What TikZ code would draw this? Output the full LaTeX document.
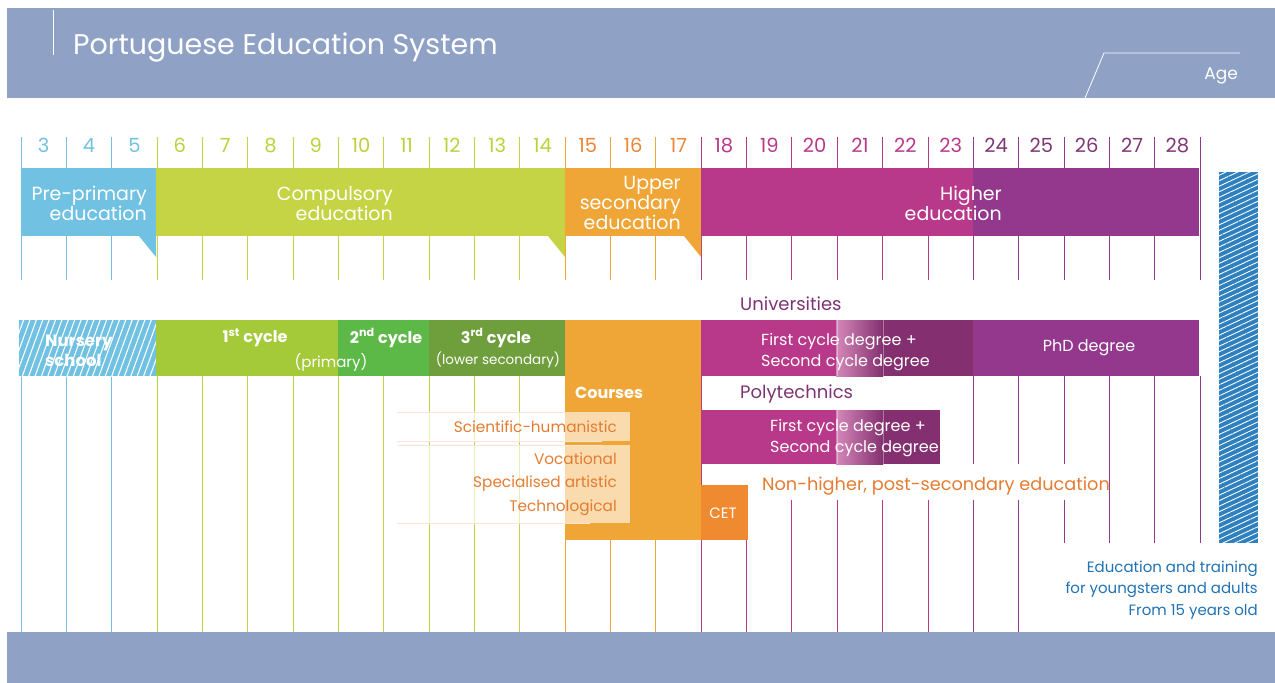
\documentclass[tikz,border=0pt]{standalone}
\usepackage{fontspec}
\setmainfont{Poppins}
\usetikzlibrary{patterns.meta}

\definecolor{hdr}{HTML}{8FA2C6}
\definecolor{cpre}{HTML}{71C1E2}
\definecolor{ccomp}{HTML}{C5D444}
\definecolor{cupper}{HTML}{F0A636}
\definecolor{chigh}{HTML}{B8388A}
\definecolor{cphd}{HTML}{93388C}
\definecolor{cfirst}{HTML}{A4CA3A}
\definecolor{csecond}{HTML}{5DB947}
\definecolor{cthird}{HTML}{6F9E3C}
\definecolor{cdeep}{HTML}{843070}
\definecolor{cuni}{HTML}{7E3474}
\definecolor{ccet}{HTML}{EF8A30}
\definecolor{ctxtor}{HTML}{E47C32}
\definecolor{cbar}{HTML}{2E80BE}
\definecolor{ctxtbl}{HTML}{1F72B5}
\definecolor{ncomp}{HTML}{BDD03C}
\definecolor{nupper}{HTML}{EF8435}
\definecolor{nphd}{HTML}{7F3576}

\tikzset{
  band/.style={font=\fontsize{19}{20}\selectfont, text=white, inner sep=0, align=right, anchor=east},
  cyc/.style={font=\bfseries\fontsize{16}{17}\selectfont, text=white, inner sep=0},
  small/.style={font=\fontsize{15}{16}\selectfont, text=white, inner sep=0},
  deg/.style={font=\fontsize{16}{21}\selectfont, text=white, inner sep=0, align=left, anchor=west},
  track/.style={font=\fontsize{15.3}{23.5}\selectfont, text=ctxtor, inner sep=0, align=right, anchor=east},
  num/.style={font=\fontsize{19.5}{19.5}\selectfont, inner sep=0},
  grid/.style={line width=1}
}

\begin{document}
\begin{tikzpicture}[x=1pt,y=-1pt]
    \useasboundingbox (0,0) rectangle (1275,683);
    % Header
    \fill[hdr] (7,8) rectangle (1275,98);
    \draw[white, line width=1] (53,10) -- (53,55);
    \node[font=\fontsize{28.5}{28.5}\selectfont, text=white, anchor=west, inner sep=0] (title) at (73,48) {Portuguese Education System};
    \draw[white, line width=0.8] (1085,98) -- (1104,53) -- (1240,53);
    \node[font=\fontsize{17}{17}\selectfont, text=white, anchor=east, inner sep=0] (age) at (1238,76) {Age};
    % Grid lines
    \foreach \k/\c in {0/cpre,1/cpre,2/cpre,3/ccomp,4/ccomp,5/ccomp,6/ccomp,7/ccomp,8/ccomp,9/ccomp,10/ccomp,11/ccomp,12/cupper,13/cupper,14/cupper,15/chigh,16/chigh,17/chigh,18/chigh,19/chigh,20/chigh,21/cphd,22/cphd,23/cphd,24/cphd,25/cphd,26/cphd}
      \draw[grid, \c] ({21+45.35*\k},137) -- ({21+45.35*\k},280);
    \foreach \k/\c in {0/cpre,1/cpre,2/cpre,3/ccomp,4/ccomp,5/ccomp,6/ccomp,7/ccomp,8/ccomp,9/ccomp,10/ccomp,11/ccomp,12/cupper,13/cupper,14/cupper,15/chigh,16/chigh,17/chigh,18/chigh,19/chigh,20/chigh,21/cphd,22/cphd}
      \draw[grid, \c] ({21+45.35*\k},376) -- ({21+45.35*\k},632);
    \foreach \k in {23,...,26}
      \draw[grid, cphd] ({21+45.35*\k},376) -- ({21+45.35*\k},543);
    % Ages
    \foreach \a in {3,4,5}
      \node[num, text=cpre] (n\a) at ({43.7+45.35*(\a-3)},145.5) {\a};
    \foreach \a in {6,...,14}
      \node[num, text=ncomp] (n\a) at ({43.7+45.35*(\a-3)},145.5) {\a};
    \foreach \a in {15,16,17}
      \node[num, text=nupper] (n\a) at ({43.7+45.35*(\a-3)},145.5) {\a};
    \foreach \a in {18,...,23}
      \node[num, text=chigh] (n\a) at ({43.7+45.35*(\a-3)},145.5) {\a};
    \foreach \a in {24,...,28}
      \node[num, text=nphd] (n\a) at ({43.7+45.35*(\a-3)},145.5) {\a};
    % Levels
    \fill[cpre] (21,168) rectangle (156,236);
    \fill[cpre] (139,236) -- (156,236) -- (156,257) -- cycle;
    \fill[ccomp] (156,168) rectangle (565,236);
    \fill[ccomp] (548,236) -- (565,236) -- (565,257) -- cycle;
    \fill[cupper] (565,168) rectangle (701,236);
    \fill[cupper] (684,236) -- (701,236) -- (701,257) -- cycle;
    \fill[chigh] (701,168) rectangle (973,236);
    \fill[cphd] (973,168) rectangle (1199,236);
    \node[band] (preprim) at (147,203) {Pre-primary\\education};
    \node[band] (compuls) at (393,204) {Compulsory\\education};
    \node[band] (upper) at (681,203) {Upper\\secondary\\education};
    \node[band] (higher) at (1002,203) {Higher\\education};
    % Right bar
    \fill[cbar] (1219,172) rectangle (1258,543);
    \fill[pattern={Lines[angle=25, distance=5pt, line width=0.9pt]}, pattern color=white] (1219,172) rectangle (1258,543);
    % Basic education
    \fill[cpre] (19,320) rectangle (156,376);
    \fill[pattern={Lines[angle=70, distance=6pt, line width=1.1pt]}, pattern color=white] (19,320) rectangle (156,376);
    \fill[cfirst] (156,320) rectangle (338,376);
    \fill[csecond] (338,320) rectangle (429,376);
    \fill[cthird] (429,320) rectangle (565,376);
    \node[cyc, align=left, anchor=west, font=\bfseries\fontsize{16.5}{20}\selectfont] (nursery) at (45,351) {Nursery\\school};
    \node[cyc] (first) at (255,338) {1\textsuperscript{st} cycle};
    \node[small] (primary) at (331,362) {(primary)};
    \node[cyc] (second) at (386,338) {2\textsuperscript{nd} cycle};
    \node[cyc] (third) at (496,338) {3\textsuperscript{rd} cycle};
    \node[small, font=\fontsize{13.5}{14}\selectfont] (lowsec) at (498,360) {(lower secondary)};
    % Secondary courses
    \fill[cupper] (565,320) rectangle (701,540);
    \node[cyc, anchor=west] (courses) at (575,393) {Courses};
    \fill[white, opacity=0.6] (397,412) rectangle (630,441);
    \fill[white, opacity=0.6] (397,445) rectangle (630,523);
    \draw[ctxtor!20, line width=0.8] (397,412) -- (565,412) (397,441) -- (602,441) (397,445) -- (602,445) (397,523) -- (590,523);
    \node[track] (scihum) at (617,427) {Scientific-humanistic};
    \node[track] (voc) at (617,484) {Vocational\\Specialised artistic\\Technological};
    % Higher education
    \fill[white] (702,376) rectangle (972,410);
    \fill[white] (702,464) rectangle (1103,500);
    \node[font=\fontsize{18}{18}\selectfont, text=cuni, anchor=west, inner sep=0] (univ) at (740,304) {Universities};
    \fill[chigh] (701,320) rectangle (836,376);
    \shade[left color=chigh!60!white, right color=cdeep] (836,320) rectangle (883,376);
    \fill[cdeep] (883,320) rectangle (973,376);
    \fill[cphd] (973,320) rectangle (1199,376);
    \draw[white, opacity=0.35, line width=1] (837,320) -- (837,376) (883,320) -- (883,376);
    \node[deg] (unideg) at (761,352.5) {First cycle degree +\\Second cycle degree};
    \node[font=\fontsize{16}{16}\selectfont, text=white, inner sep=0] (phd) at (1089,348) {PhD degree};
    \node[font=\fontsize{18}{18}\selectfont, text=cuni, anchor=west, inner sep=0] (poly) at (740,394) {Polytechnics};
    \fill[chigh] (701,410) rectangle (836,464);
    \shade[left color=chigh!60!white, right color=cdeep] (836,410) rectangle (883,464);
    \fill[cdeep] (883,410) rectangle (940,464);
    \draw[white, opacity=0.35, line width=1] (837,410) -- (837,464) (883,410) -- (883,464);
    \node[deg] (polydeg) at (770,438.5) {First cycle degree +\\Second cycle degree};
    % Post-secondary
    \node[font=\fontsize{17.7}{17.7}\selectfont, text=ctxtor, anchor=west, inner sep=0] (nonhigher) at (762,486) {Non-higher, post-secondary education};
    \fill[ccet] (701,485) rectangle (748,540);
    \node[font=\fontsize{15}{15}\selectfont, text=white, inner sep=0] (cet) at (723,513) {CET};
    % Adults
    \node[font=\fontsize{15}{21.5}\selectfont, text=ctxtbl, align=right, anchor=east, inner sep=0] (adults) at (1258,590) {Education and training\\for youngsters and adults\\From 15 years old};
    % Footer
    \fill[hdr] (7,632) rectangle (1275,683);
\end{tikzpicture}
\end{document}
